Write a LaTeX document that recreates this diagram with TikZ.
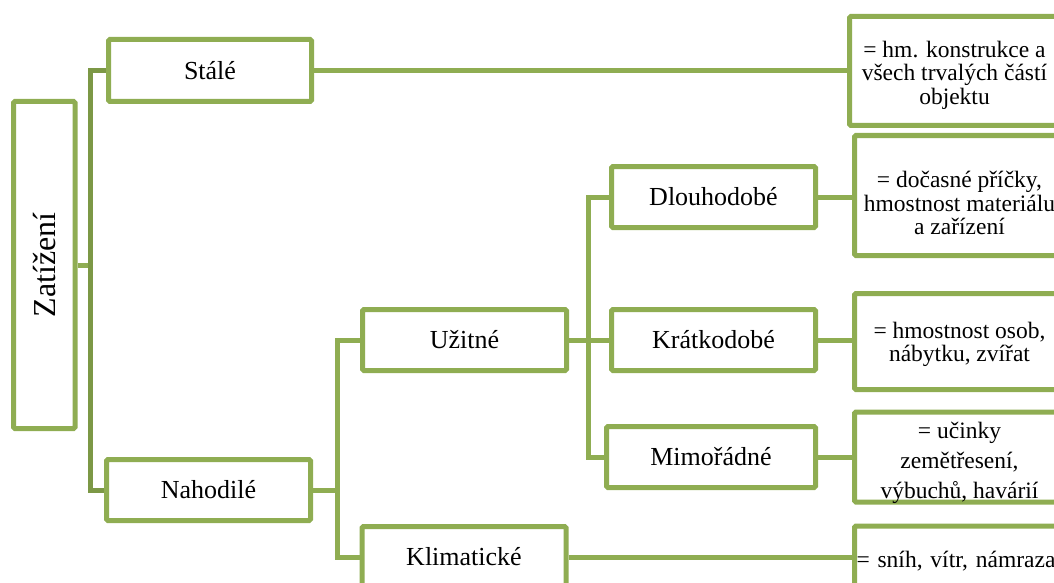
\documentclass[tikz,border=0pt]{standalone}
\usepackage{fontspec}
\IfFontExistsTF{LiberationSerif-Regular.ttf}
  {\setmainfont{LiberationSerif}[Extension=.ttf, UprightFont=*-Regular, BoldFont=*-Bold, ItalicFont=*-Italic, BoldItalicFont=*-BoldItalic]}
  {\setmainfont{Liberation Serif}}
\definecolor{boxgreen}{RGB}{143,173,82}
\definecolor{darkgreen}{RGB}{124,152,70}
\newcommand{\descshift}[2]{\raisebox{-#1}[\height][\depth]{\begin{tabular}{@{}c@{}}#2\end{tabular}}}
\tikzset{
  box/.style={draw=boxgreen, line width=5pt, rounded corners=1.5pt, fill=white, inner sep=0pt,
    font=\fontsize{26}{28}\selectfont, minimum width=204pt, minimum height=61pt},
  desc/.style={draw=boxgreen, line width=5pt, rounded corners=1.5pt, fill=white, inner sep=0pt,
    font=\fontsize{23.5}{23.5}\selectfont, minimum width=210pt},
  conn/.style={draw=boxgreen, line width=5pt},
  darkconn/.style={draw=darkgreen, line width=5pt},
}
\begin{document}
\begin{tikzpicture}[x=1pt,y=-1pt]
\useasboundingbox (0,0) rectangle (1054,583);
\clip (0,0) rectangle (1054,583);
% main boxes
\node[box, minimum width=61.5pt, minimum height=327pt] (zat) at (44.25,265)
  {\rotatebox{90}{\fontsize{32}{32}\selectfont Zatížení}};
\node[box, minimum width=203pt, minimum height=62pt] (sta) at (210,70.5) {Stálé};
\node[box] (nah) at (208.5,490) {Nahodilé};
\node[box] (uzi) at (464.5,340) {Užitné};
\node[box] (kli) at (464,557) {Klimatické};
\node[box] (dlo) at (713.5,197) {Dlouhodobé};
\node[box] (kra) at (713.5,340) {Krátkodobé};
\node[box, minimum width=209pt] (mim) at (711,457) {Mimořádné};
% description boxes
\node[desc, minimum height=109pt] (d1) at (954.5,71)
  {\descshift{5pt}{= hm. konstrukce a\\všech trvalých částí\\objektu}};
\node[desc, minimum height=120pt] (d2) at (959.5,195.5)
  {\descshift{11pt}{= dočasné příčky,\\hmostnost materiálu\\a zařízení}};
\node[desc, minimum height=96pt] (d3) at (959.5,341.5)
  {\descshift{4pt}{= hmostnost osob,\\nábytku, zvířat}};
\node[desc, minimum height=85pt, font=\fontsize{23.5}{30}\selectfont] (d4) at (959.5,457)
  {\descshift{5pt}{= učinky\\zemětřesení,\\výbuchů, havárií}};
\node[desc, minimum height=70pt, text width=206pt, align=left, inner xsep=1pt] (d5) at (959.5,561)
  {= sníh, vítr, námraza};
% connectors
\coordinate (j1) at (90,265);
\draw[conn] (zat.east) -- (j1);
\draw[darkconn] (sta.west) -| (j1) |- (nah.west);
\coordinate (j2) at (337,490);
\draw[conn] (nah.east) -- (j2);
\draw[conn] (uzi.west) -| (j2) |- (kli.west);
\coordinate (j3) at (588,340);
\draw[conn] (uzi.east) -- (j3);
\draw[conn] (dlo.west) -| (j3) |- (mim.west);
\draw[conn] (kra.west) -- (kra.west -| j3);
\draw[conn] (sta.east) -- (sta.east -| d1.west);
\draw[conn] (dlo.east) -- (dlo.east -| d2.west);
\draw[conn] (kra.east) -- (kra.east -| d3.west);
\draw[conn] (mim.east) -- (mim.east -| d4.west);
\draw[conn] (kli.east) -- (kli.east -| d5.west);
\end{tikzpicture}
\end{document}
